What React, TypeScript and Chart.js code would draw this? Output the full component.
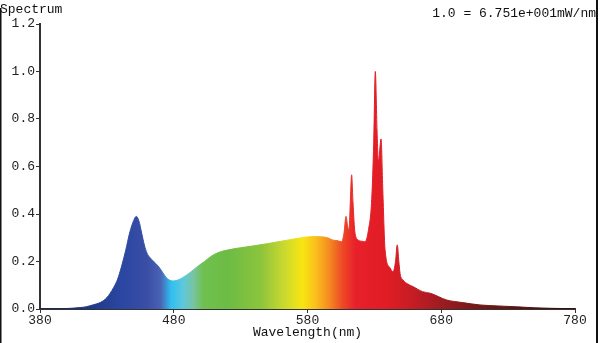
import React, { useEffect, useRef } from "react";
import { Chart, registerables } from "chart.js";

Chart.register(...registerables);

const wavelengths: number[] = [
  380, 390, 400, 410, 415, 420, 425, 430, 435, 438, 441, 444, 447, 450, 452, 454, 456, 458, 460, 462,
  465, 468, 471, 474, 477, 480, 484, 488, 493, 498, 503, 508, 513, 520, 530, 540, 550, 560, 570, 578,
  585, 590, 595, 599, 602, 605.5, 607.3, 608.8, 610, 611, 612, 613, 614, 615.5, 618, 621, 623, 625.5,
  628, 629.5, 630.7, 632, 633, 635, 636.3, 638, 641.7, 644, 645.8, 647.1, 648.3, 649.2, 651.4, 655,
  659, 666, 672, 684, 696, 709, 722, 737, 750, 761, 780,
];

const intensities: number[] = [
  0.0, 0.001, 0.002, 0.006, 0.01, 0.018, 0.027, 0.048, 0.09, 0.125, 0.18, 0.245, 0.32, 0.372, 0.39, 0.37, 0.32, 0.27, 0.235, 0.218,
  0.2, 0.183, 0.16, 0.135, 0.121, 0.118, 0.124, 0.137, 0.157, 0.18, 0.2, 0.222, 0.237, 0.248, 0.258, 0.266, 0.275, 0.285, 0.295, 0.302,
  0.305, 0.304, 0.3, 0.29, 0.288, 0.283, 0.32, 0.39, 0.35, 0.33, 0.45, 0.565, 0.45, 0.32, 0.29, 0.285, 0.283, 0.33,
  0.46, 0.7, 1.0, 0.75, 0.62, 0.716, 0.5, 0.248, 0.173, 0.157, 0.2, 0.27, 0.2, 0.15, 0.122, 0.105,
  0.094, 0.073, 0.066, 0.038, 0.027, 0.017, 0.013, 0.009, 0.005, 0.003, 0.001,
];

const xTicks: number[] = [380, 480, 580, 680, 780];
const yTicks: number[] = [0, 0.2, 0.4, 0.6, 0.8, 1.0, 1.2];

const spectrumStops: [number, string][] = [
  [380, "#1a1f4a"],
  [420, "#203a8a"],
  [440, "#2a46a0"],
  [460, "#3a4ea6"],
  [470, "#4a62b2"],
  [478, "#30bff0"],
  [487, "#5ec8dc"],
  [495, "#78c4a0"],
  [502, "#70c050"],
  [520, "#6cbc44"],
  [545, "#8cc43c"],
  [562, "#c8d830"],
  [576, "#f7e612"],
  [586, "#fac01c"],
  [596, "#f58c22"],
  [606, "#ee4a26"],
  [616, "#e8202a"],
  [640, "#e01c24"],
  [660, "#c41c24"],
  [680, "#9c1c20"],
  [710, "#701818"],
  [780, "#3a0c0c"],
];

const FONT = '"Liberation Mono", "Courier New", monospace';

export default function App() {
  const ref = useRef<HTMLCanvasElement | null>(null);

  useEffect(() => {
    document.body.style.margin = "0";
    const canvas = ref.current;
    if (!canvas) return;

    const gradientFor = (chart: any) => {
      const { chartArea, scales } = chart;
      if (!chartArea || !scales.x) return "#e01c24";
      const x0 = scales.x.getPixelForValue(380);
      const x1 = scales.x.getPixelForValue(780);
      const g = chart.ctx.createLinearGradient(x0, 0, x1, 0);
      spectrumStops.forEach(([wl, c]) => {
        g.addColorStop((wl - 380) / 400, c);
      });
      return g;
    };

    const textPlugin = {
      id: "texts",
      afterDraw(chart: any) {
        const ctx = chart.ctx;
        ctx.save();
        ctx.fillStyle = "#111";
        ctx.font = `13px ${FONT}`;
        ctx.textBaseline = "middle";
        ctx.textAlign = "left";
        ctx.fillText("Spectrum", 0, 10);
        ctx.textAlign = "right";
        ctx.fillText("1.0 = 6.751e+001mW/nm", 596, 14);
        ctx.textAlign = "center";
        const xs = chart.scales.x;
        ctx.fillText("Wavelength(nm)", (xs.left + xs.right) / 2, 333);
        ctx.strokeStyle = "#111";
        ctx.lineWidth = 2;
        ctx.beginPath();
        ctx.moveTo(0.5, 8);
        ctx.lineTo(0.5, 343);
        ctx.moveTo(597, 0);
        ctx.lineTo(597, 343);
        ctx.stroke();
        ctx.restore();
      },
    };

    const chart = new Chart(canvas, {
      type: "line",
      data: {
        datasets: [
          {
            data: wavelengths.map((w, i) => ({ x: w, y: intensities[i] })),
            fill: "origin",
            backgroundColor: (c: any) => gradientFor(c.chart),
            borderColor: (c: any) => gradientFor(c.chart),
            borderWidth: 1,
            pointRadius: 0,
            cubicInterpolationMode: "monotone",
          } as any,
        ],
      },
      options: {
        responsive: false,
        animation: false,
        events: [],
        layout: { padding: { top: 24, right: 25, left: 0, bottom: 0 } },
        plugins: {
          legend: { display: false },
          tooltip: { enabled: false },
          title: { display: false },
        },
        scales: {
          x: {
            type: "linear",
            min: 380,
            max: 780,
            afterFit: (s: any) => {
              s.height = 34;
            },
            afterBuildTicks: (s: any) => {
              s.ticks = xTicks.map((v) => ({ value: v }));
            },
            ticks: {
              color: "#222",
              font: { family: FONT, size: 13 },
              padding: 0,
              maxRotation: 0,
              autoSkip: false,
              callback: (v: any) => String(v),
            },
            grid: { drawOnChartArea: false, drawTicks: true, tickLength: 4, color: "#333" },
            border: { color: "#333", width: 2 },
          },
          y: {
            min: 0,
            max: 1.2,
            afterFit: (s: any) => {
              s.width = 40;
            },
            afterBuildTicks: (s: any) => {
              s.ticks = yTicks.map((v) => ({ value: v }));
            },
            ticks: {
              color: "#222",
              font: { family: FONT, size: 13 },
              padding: 1,
              autoSkip: false,
              callback: (v: any) => Number(v).toFixed(1),
            },
            grid: { drawOnChartArea: false, drawTicks: true, tickLength: 4, color: "#333" },
            border: { color: "#333", width: 2 },
          },
        },
      } as any,
      plugins: [textPlugin],
    });

    return () => chart.destroy();
  }, []);

  return (
    <div style={{ width: 600, height: 343, background: "#fff" }}>
      <canvas ref={ref} width={600} height={343} style={{ display: "block" }} />
    </div>
  );
}
